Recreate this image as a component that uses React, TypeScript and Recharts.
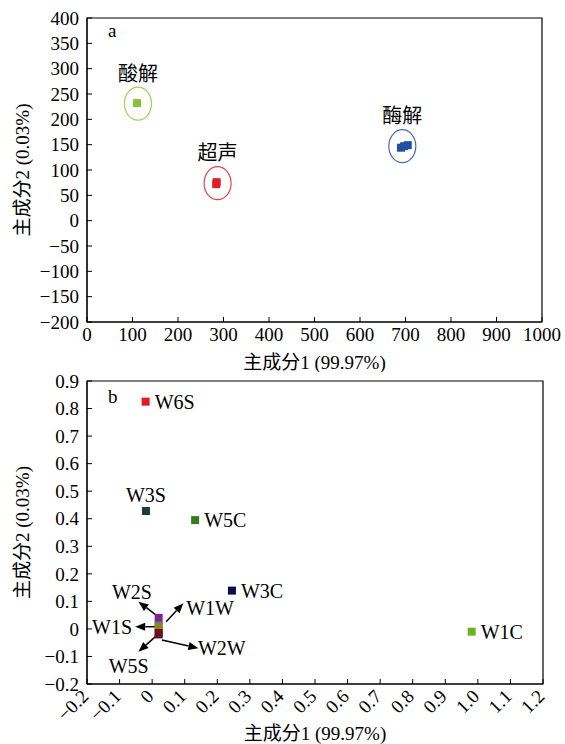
import { ScatterChart, Scatter, XAxis, YAxis, ZAxis, ReferenceArea, ReferenceDot, ReferenceLine } from 'recharts';

const FONT = "'Liberation Serif', 'Noto Sans CJK SC', serif";

// ---- panel a ----
const aXTicks = [0, 100, 200, 300, 400, 500, 600, 700, 800, 900, 1000];
const aYTicks = [-200, -150, -100, -50, 0, 50, 100, 150, 200, 250, 300, 350, 400];
const acidX = [110];
const acidY = [232];
const sonicX = [284, 285];
const sonicY = [72, 76];
const enzymeX = [690, 697, 705];
const enzymeY = [144, 147, 149];
const groupNames = ['酸解', '超声', '酶解'];
const groupColors = ['#86c232', '#e01d26', '#22509f'];
const ringColors = ['#9fd062', '#e2464c', '#4470bb'];
const ringX = [112, 287, 693];
const ringY = [231, 74, 147];

// ---- panel b ----
const bXTicks = [-0.2, -0.1, 0, 0.1, 0.2, 0.3, 0.4, 0.5, 0.6, 0.7, 0.8, 0.9, 1.0, 1.1, 1.2];
const bYTicks = [-0.2, -0.1, 0, 0.1, 0.2, 0.3, 0.4, 0.5, 0.6, 0.7, 0.8, 0.9];
const sampleNames = ['W6S', 'W3S', 'W5C', 'W3C', 'W1C', 'W2S', 'W1W', 'W1S', 'W5S', 'W2W'];
const sampleX = [-0.02, -0.019, 0.132, 0.245, 0.981, 0.02, 0.02, 0.02, 0.02, 0.02];
const sampleY = [0.825, 0.428, 0.395, 0.139, -0.01, 0.04, 0.013, 0.008, -0.02, -0.015];
const sampleColors = ['#e01b24', '#1d3c40', '#3a7a1c', '#0c0c4c', '#6cb224', '#8b1f8c', '#3d6fc4', '#8a8a1c', '#4a1a3a', '#720f1e'];
const labelSide = ['right', 'top', 'right', 'right', 'right'];

// arrows for the overlapping group near the origin
const clusterNames = ['W2S', 'W1W', 'W1S', 'W2W', 'W5S'];
const arrowFromX = [0.02, 0.043, 0.01, 0.03, 0.01];
const arrowFromY = [0.043, 0.026, 0.008, -0.04, -0.028];
const arrowToX = [-0.042, 0.096, -0.052, 0.142, -0.042];
const arrowToY = [0.099, 0.093, 0.008, -0.07, -0.083];
const clusterLabelX = [-0.062, 0.178, -0.123, 0.214, -0.072];
const clusterLabelY = [0.135, 0.075, 0.008, -0.07, -0.134];

const fmtA = (v: number) => (v < 0 ? '\u2212' + Math.abs(v) : String(v));
const fmtB = (v: number) => {
  if (v === 0) return '0';
  const s = Math.abs(v).toFixed(1);
  return v < 0 ? '\u2212' + s : s;
};

const tickStyle = { fill: '#000', fontSize: 19, fontFamily: FONT };

function YTitle(props: any) {
  const vb = props.viewBox;
  const x = vb.x + 22;
  const y = vb.y + vb.height / 2;
  return (
    <text x={x} y={y} transform={`rotate(-90 ${x} ${y})`} textAnchor="middle" dominantBaseline="central"
      fontSize={19} fontFamily={FONT} fill="#000">
      主成分2 (0.03%)
    </text>
  );
}

function RotTick(props: any) {
  const { x, y, payload } = props;
  const tx = x - 2;
  return (
    <text x={tx} y={y} transform={`rotate(-45 ${tx} ${y})`} textAnchor="end" dominantBaseline="central"
      fontSize={19} fontFamily={FONT} fill="#000">
      {fmtB(payload.value)}
    </text>
  );
}

function Arrow(props: any) {
  const { x1, y1, x2, y2 } = props;
  const a = Math.atan2(y2 - y1, x2 - x1);
  const c = Math.cos(a);
  const s = Math.sin(a);
  const bx = x2 - 10 * c;
  const by = y2 - 10 * s;
  const pts = `${x2},${y2} ${bx - 4 * s},${by + 4 * c} ${bx + 4 * s},${by - 4 * c}`;
  return (
    <g>
      <line x1={x1} y1={y1} x2={bx} y2={by} stroke="#000" strokeWidth={1.5} />
      <polygon points={pts} fill="#000" />
    </g>
  );
}

const acidData = acidX.map((x, i) => ({ x, y: acidY[i] }));
const sonicData = sonicX.map((x, i) => ({ x, y: sonicY[i] }));
const enzymeData = enzymeX.map((x, i) => ({ x, y: enzymeY[i] }));
const groups = [acidData, sonicData, enzymeData];

export default function App() {
  return (
    <div style={{ position: 'absolute', left: 0, top: 0, width: 565, height: 744, background: '#fff' }}>
      <div style={{ position: 'absolute', left: 0, top: 0 }}>
        <ScatterChart width={565} height={372} margin={{ top: 18, right: 23, bottom: 0, left: 0 }}>
          <XAxis type="number" dataKey="x" domain={[0, 1000]} ticks={aXTicks} interval={0}
            tick={tickStyle} tickSize={-5} tickMargin={11} tickFormatter={fmtA}
            axisLine={{ stroke: '#000' }} tickLine={{ stroke: '#000' }} height={50}
            label={{ value: '主成分1 (99.97%)', position: 'insideBottom', offset: 3, fill: '#000', fontSize: 19, fontFamily: FONT }} />
          <YAxis type="number" dataKey="y" domain={[-200, 400]} ticks={aYTicks} interval={0}
            tick={tickStyle} tickSize={-5} tickMargin={13} tickFormatter={fmtA}
            axisLine={{ stroke: '#000' }} tickLine={{ stroke: '#000' }} width={87}
            label={{ content: YTitle }} />
          <ZAxis range={[49, 49]} />
          <ReferenceArea x1={0} x2={1000} y1={-200} y2={400} fill="none" stroke="#000" strokeWidth={1.2} fillOpacity={0} />
          {groups.map((d, i) => (
            <Scatter key={groupNames[i]} data={d} fill={groupColors[i]} shape="square" isAnimationActive={false} />
          ))}
          {groupNames.map((n, i) => (
            <ReferenceDot key={n} x={ringX[i]} y={ringY[i]} r={16}
              shape={(p: any) => (
                <g>
                  <ellipse cx={p.cx} cy={p.cy} rx={13.5} ry={16.5} fill="none" stroke={ringColors[i]} strokeWidth={1.2} />
                  <text x={p.cx} y={p.cy - 30} textAnchor="middle" dominantBaseline="central"
                    fontSize={20} fontFamily={FONT} fill="#000">{n}</text>
                </g>
              )} />
          ))}
        </ScatterChart>
      </div>
      <div style={{ position: 'absolute', left: 108, top: 21, fontSize: 19, lineHeight: '19px', fontFamily: FONT }}>a</div>

      <div style={{ position: 'absolute', left: 0, top: 372 }}>
        <ScatterChart width={565} height={372} margin={{ top: 9, right: 22, bottom: 0, left: 0 }}>
          <XAxis type="number" dataKey="x" domain={[-0.2, 1.2]} ticks={bXTicks} interval={0}
            tick={<RotTick />} tickSize={-5} tickMargin={14}
            axisLine={{ stroke: '#000' }} tickLine={{ stroke: '#000' }} height={60}
            label={{ value: '主成分1 (99.97%)', position: 'insideBottom', offset: 4, fill: '#000', fontSize: 19, fontFamily: FONT }} />
          <YAxis type="number" dataKey="y" domain={[-0.2, 0.9]} ticks={bYTicks} interval={0}
            tick={tickStyle} tickSize={-5} tickMargin={13} tickFormatter={fmtB}
            axisLine={{ stroke: '#000' }} tickLine={{ stroke: '#000' }} width={87}
            label={{ content: YTitle }} />
          <ZAxis range={[100, 100]} />
          <ReferenceArea x1={-0.2} x2={1.2} y1={-0.2} y2={0.9} fill="none" stroke="#000" strokeWidth={1.2} fillOpacity={0} />
          {sampleNames.map((n, i) => (
            <Scatter key={n} data={[{ x: sampleX[i], y: sampleY[i] }]} fill={sampleColors[i]} shape="square" isAnimationActive={false} />
          ))}
          {labelSide.map((side, i) => (
            <ReferenceDot key={'l' + i} x={sampleX[i]} y={sampleY[i]} r={0}
              shape={(p: any) =>
                side === 'top' ? (
                  <text x={p.cx} y={p.cy - 16} textAnchor="middle" dominantBaseline="central"
                    fontSize={20} fontFamily={FONT} fill="#000">{sampleNames[i]}</text>
                ) : (
                  <text x={p.cx + 9} y={p.cy} textAnchor="start" dominantBaseline="central"
                    fontSize={20} fontFamily={FONT} fill="#000">{sampleNames[i]}</text>
                )
              } />
          ))}
          {clusterNames.map((n, i) => (
            <ReferenceLine key={'a' + n} segment={[{ x: arrowFromX[i], y: arrowFromY[i] }, { x: arrowToX[i], y: arrowToY[i] }]}
              shape={Arrow} />
          ))}
          {clusterNames.map((n, i) => (
            <ReferenceDot key={'c' + n} x={clusterLabelX[i]} y={clusterLabelY[i]} r={0}
              shape={(p: any) => (
                <text x={p.cx} y={p.cy} textAnchor="middle" dominantBaseline="central"
                  fontSize={20} fontFamily={FONT} fill="#000">{n}</text>
              )} />
          ))}
        </ScatterChart>
      </div>
      <div style={{ position: 'absolute', left: 108, top: 387, fontSize: 19, lineHeight: '19px', fontFamily: FONT }}>b</div>
    </div>
  );
}
